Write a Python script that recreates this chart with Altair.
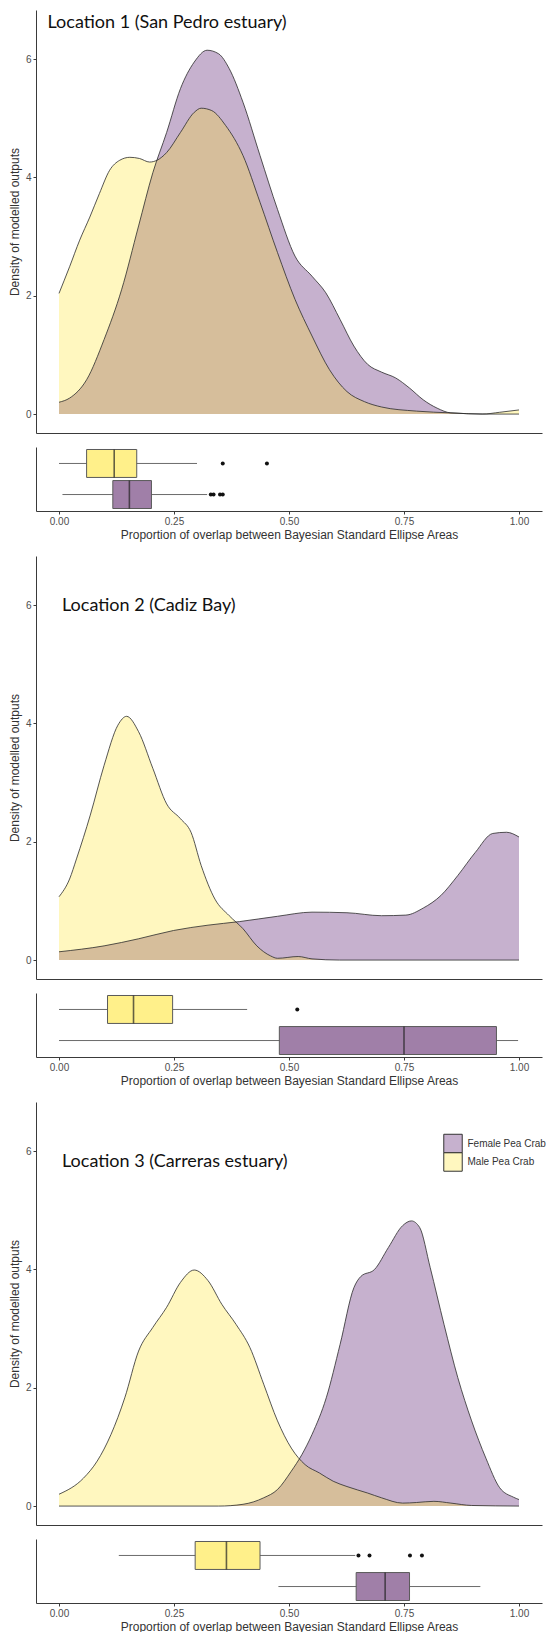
import altair as alt
import pandas as pd

SEXES = ["Female Pea Crab", "Male Pea Crab"]
BOX_ORDER = ["Male Pea Crab", "Female Pea Crab"]
TITLES = ["Location 1 (San Pedro estuary)", "Location 2 (Cadiz Bay)", "Location 3 (Carreras estuary)"]

# ---- density curves (x = proportion of overlap, y = density) ----
loc1_male_x = [0, 0.023, 0.045, 0.067, 0.088, 0.11, 0.132, 0.154, 0.175, 0.197, 0.213, 0.234, 0.264,
               0.294, 0.309, 0.332, 0.362, 0.4, 0.437, 0.475, 0.513, 0.55, 0.588, 0.626, 0.664, 0.701,
               0.777, 0.852, 0.92, 0.958, 1.0]
loc1_male_y = [2.04, 2.49, 2.94, 3.33, 3.73, 4.12, 4.29, 4.34, 4.32, 4.26, 4.29, 4.42, 4.76,
               5.1, 5.17, 5.13, 4.88, 4.37, 3.58, 2.73, 1.94, 1.32, 0.75, 0.38, 0.21, 0.12,
               0.05, 0.02, 0.0, 0.03, 0.07]
loc1_female_x = [0, 0.023, 0.06, 0.098, 0.136, 0.173, 0.204, 0.234, 0.264, 0.294, 0.322, 0.347, 0.37,
                 0.4, 0.437, 0.475, 0.513, 0.55, 0.58, 0.611, 0.641, 0.671, 0.701, 0.732, 0.762,
                 0.792, 0.822, 0.852, 0.928, 1.0]
loc1_female_y = [0.2, 0.27, 0.58, 1.26, 2.1, 3.18, 4.08, 4.76, 5.5, 5.95, 6.15, 6.09, 5.84,
                 5.27, 4.37, 3.46, 2.67, 2.33, 2.05, 1.6, 1.15, 0.84, 0.71, 0.61, 0.44,
                 0.24, 0.1, 0.02, 0.0, 0.0]

loc2_male_x = [0, 0.023, 0.038, 0.068, 0.098, 0.128, 0.147, 0.173, 0.204, 0.234, 0.264, 0.287, 0.309,
               0.339, 0.37, 0.4, 0.43, 0.46, 0.475, 0.52, 0.55, 0.61, 1.0]
loc2_male_y = [1.07, 1.37, 1.71, 2.45, 3.29, 3.97, 4.12, 3.86, 3.24, 2.64, 2.39, 2.16, 1.6,
               1.03, 0.75, 0.53, 0.24, 0.07, 0.03, 0.06, 0.02, 0.0, 0.0]
loc2_female_x = [0, 0.098, 0.173, 0.249, 0.324, 0.392, 0.475, 0.55, 0.626, 0.701, 0.754, 0.792,
                 0.83, 0.867, 0.905, 0.943, 0.973, 1.0]
loc2_female_y = [0.14, 0.24, 0.36, 0.5, 0.59, 0.65, 0.74, 0.81, 0.8, 0.75, 0.76, 0.88,
                 1.09, 1.43, 1.82, 2.14, 2.16, 2.08]

loc3_male_x = [0, 0.053, 0.083, 0.113, 0.143, 0.173, 0.204, 0.234, 0.264, 0.294, 0.324, 0.354, 0.385,
               0.415, 0.445, 0.475, 0.505, 0.535, 0.566, 0.596, 0.626, 0.671, 0.701, 0.747, 0.777,
               0.815, 0.852, 0.897, 1.0]
loc3_male_y = [0.2, 0.47, 0.76, 1.21, 1.83, 2.62, 3.02, 3.36, 3.78, 3.99, 3.81, 3.41, 3.07,
               2.68, 2.06, 1.44, 0.98, 0.7, 0.56, 0.42, 0.33, 0.22, 0.14, 0.05, 0.06,
               0.08, 0.05, 0.01, 0.0]
loc3_female_x = [0, 0.347, 0.4, 0.445, 0.475, 0.505, 0.528, 0.55, 0.581, 0.611, 0.641, 0.656, 0.686,
                 0.716, 0.747, 0.766, 0.784, 0.807, 0.837, 0.867, 0.897, 0.928, 0.958, 0.988, 1.0]
loc3_female_y = [0.0, 0.0, 0.03, 0.14, 0.28, 0.59, 0.87, 1.21, 1.83, 2.73, 3.69, 3.88, 4.0,
                 4.37, 4.74, 4.82, 4.71, 4.03, 3.07, 2.17, 1.44, 0.81, 0.31, 0.15, 0.11]

# ---- boxplot summaries: whisker low, Q1, median, Q3, whisker high ----
loc1_male_box = [0.0, 0.060, 0.120, 0.169, 0.300]
loc1_male_out = [0.356, 0.452]
loc1_female_box = [0.0075, 0.117, 0.153, 0.201, 0.322]
loc1_female_out = [0.330, 0.336, 0.350, 0.356]

loc2_male_box = [0.0, 0.1055, 0.162, 0.247, 0.409]
loc2_male_out = [0.518]
loc2_female_box = [0.0, 0.479, 0.750, 0.951, 0.998]
loc2_female_out = []

loc3_male_box = [0.130, 0.296, 0.364, 0.437, 0.644]
loc3_male_out = [0.651, 0.675, 0.763, 0.789]
loc3_female_box = [0.477, 0.646, 0.709, 0.762, 0.916]
loc3_female_out = []

# ---- styling ----
FEMALE_AREA = "#C6B1CE"
MALE_AREA = "#FFE21A"
MALE_AREA_OPACITY = 0.28
LEGEND_FILLS = ["#C6B1CE", "#FFF7BF"]
BOX_FILLS = ["#A07FA8", "#FFF08A"]
AXIS_COLOR = "#3a3a3a"
FONT = "Liberation Sans"

W = 506
H_DENS = 423
H_BOX = 64

x_scale = alt.Scale(domain=[-0.05, 1.05], nice=False, zero=False)
y_scale = alt.Scale(domain=[-0.32, 6.83], nice=False, zero=False)


def density_panel(title, fx, fy, mx, my, tx, ty, legend=False):
    fem = pd.DataFrame({"x": fx, "d": fy})
    mal = pd.DataFrame({"x": mx, "d": my})
    x = alt.X("x:Q", scale=x_scale,
              axis=alt.Axis(labels=False, ticks=False, title=None, grid=False))
    y = alt.Y("d:Q", scale=y_scale,
              axis=alt.Axis(values=[0, 2, 4, 6], title="Density of modelled outputs", grid=False,
                            tickSize=3, labelPadding=2, titlePadding=4))
    f_area = alt.Chart(fem).mark_area(color=FEMALE_AREA, interpolate="monotone").encode(
        x=x, y=y, y2=alt.datum(0))
    m_area = alt.Chart(mal).mark_area(color=MALE_AREA, opacity=MALE_AREA_OPACITY,
                                      interpolate="monotone").encode(x=x, y=y, y2=alt.datum(0))
    f_line = alt.Chart(fem).mark_line(color="#2b2b2b", strokeWidth=0.8,
                                      interpolate="monotone").encode(x=x, y=y)
    m_line = alt.Chart(mal).mark_line(color="#2b2b2b", strokeWidth=0.8,
                                      interpolate="monotone").encode(x=x, y=y)
    label = alt.Chart(pd.DataFrame({"t": [title]})).mark_text(
        align="left", baseline="alphabetic", font="Lato", fontSize=18, color="#111"
    ).encode(text="t:N", x=alt.value(tx), y=alt.value(ty))
    layers = [f_area, m_area, f_line, m_line, label]
    if legend:
        for i, (name, fill) in enumerate(zip(SEXES, LEGEND_FILLS)):
            row = pd.DataFrame({"name": [name]})
            key = alt.Chart(row).mark_square(size=340, fill=fill, stroke="#333", strokeWidth=1,
                                             opacity=1).encode(
                x=alt.value(417), y=alt.value(41.5 + 18.5 * i))
            txt = alt.Chart(row).mark_text(align="left", baseline="middle", font=FONT,
                                           fontSize=10, color="#333").encode(
                text="name:N", x=alt.value(431.5), y=alt.value(41.5 + 18.5 * i))
            layers += [key, txt]
    return alt.layer(*layers).properties(width=W, height=H_DENS)


def box_panel(male_box, male_out, female_box, female_out):
    stats = pd.DataFrame(
        [dict(sex="Male Pea Crab", lo=male_box[0], q1=male_box[1], med=male_box[2],
              q3=male_box[3], hi=male_box[4]),
         dict(sex="Female Pea Crab", lo=female_box[0], q1=female_box[1], med=female_box[2],
              q3=female_box[3], hi=female_box[4])])
    outs = pd.DataFrame({"sex": ["Male Pea Crab"] * len(male_out) + ["Female Pea Crab"] * len(female_out),
                         "v": male_out + female_out})
    y = alt.Y("sex:N", scale=alt.Scale(domain=BOX_ORDER, paddingInner=0.1, paddingOuter=0.08),
              axis=alt.Axis(labels=False, ticks=False, title=None, grid=False))
    xa = alt.Axis(values=[0, 0.25, 0.5, 0.75, 1.0], format=".2f", grid=False, tickSize=3,
                  labelPadding=2, titlePadding=3,
                  title="Proportion of overlap between Bayesian Standard Ellipse Areas")
    base = alt.Chart(stats)
    whisk = base.mark_rule(color="#6b6b6b", strokeWidth=1).encode(
        x=alt.X("lo:Q", scale=x_scale, axis=xa), x2="hi:Q", y=y)
    box = base.mark_bar(stroke="#5a5a5a", strokeWidth=1, opacity=1).encode(
        x=alt.X("q1:Q", scale=x_scale, axis=xa), x2="q3:Q", y=y,
        color=alt.Color("sex:N", scale=alt.Scale(domain=SEXES, range=BOX_FILLS), legend=None))
    med = base.mark_tick(color="#222", thickness=1.6, size=28).encode(
        x=alt.X("med:Q", scale=x_scale, axis=xa), y=y)
    layers = [whisk, box, med]
    if len(outs):
        pts = alt.Chart(outs).mark_circle(size=16, color="#111", opacity=1).encode(
            x=alt.X("v:Q", scale=x_scale, axis=xa), y=y)
        layers.append(pts)
    return alt.layer(*layers).properties(width=W, height=H_BOX)


panels = [
    alt.vconcat(
        density_panel(TITLES[0], loc1_female_x, loc1_female_y, loc1_male_x, loc1_male_y, 11.5, 18),
        box_panel(loc1_male_box, loc1_male_out, loc1_female_box, loc1_female_out),
        spacing=14),
    alt.vconcat(
        density_panel(TITLES[1], loc2_female_x, loc2_female_y, loc2_male_x, loc2_male_y, 26, 55),
        box_panel(loc2_male_box, loc2_male_out, loc2_female_box, loc2_female_out),
        spacing=14),
    alt.vconcat(
        density_panel(TITLES[2], loc3_female_x, loc3_female_y, loc3_male_x, loc3_male_y, 26, 65,
                      legend=True),
        box_panel(loc3_male_box, loc3_male_out, loc3_female_box, loc3_female_out),
        spacing=14),
]

chart = alt.vconcat(*panels, spacing=16).properties(
    padding={"left": 8, "top": 10, "right": 0, "bottom": 0},
    background="white",
).configure_view(stroke=None).configure_axis(
    labelFont=FONT, titleFont=FONT, labelFontSize=10, titleFontSize=12,
    labelColor="#4d4d4d", titleColor="#333", titleFontWeight="normal",
    domainColor=AXIS_COLOR, domainWidth=1, tickColor=AXIS_COLOR, tickWidth=1,
)

chart.save("out.html", embed_options={"renderer": "svg", "actions": False})
